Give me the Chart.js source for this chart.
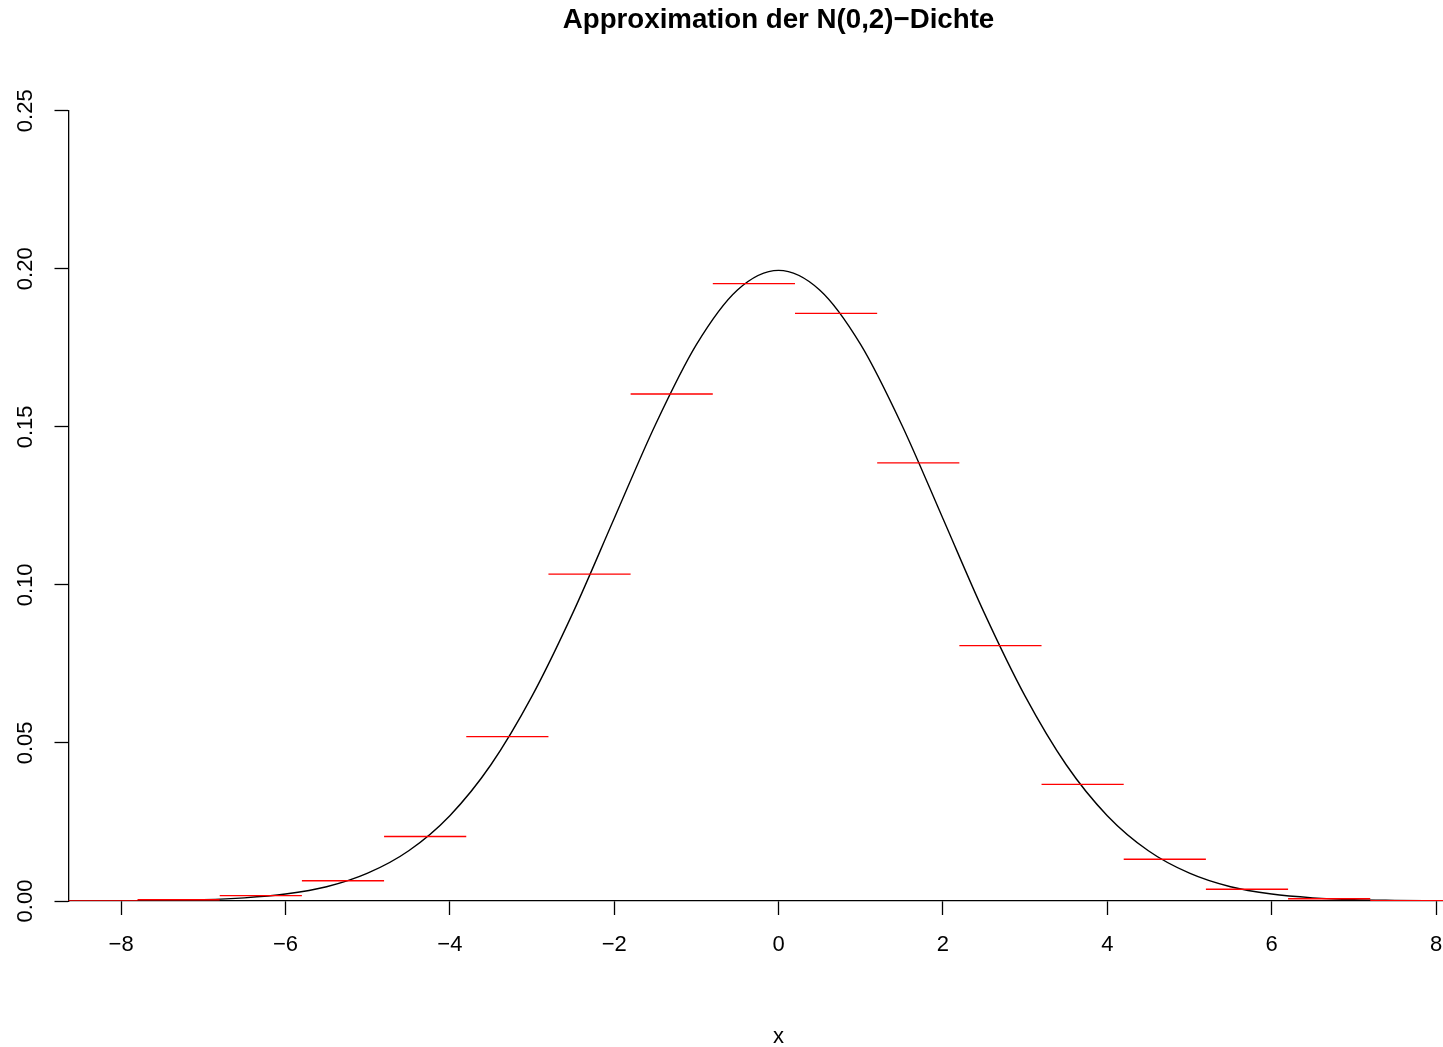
<!DOCTYPE html>
<html>
<head>
<meta charset="utf-8">
<script src="https://cdn.jsdelivr.net/npm/chart.js@4/dist/chart.umd.min.js"></script>
<style>
html,body{margin:0;padding:0;overflow:hidden;background:#fff;width:1443px;height:1047px}
canvas{display:block}
</style>
</head>
<body>
<canvas id="c" width="1557" height="1047" style="width:1557px;height:1047px"></canvas>
<script>
// ---- data ----
const chartTitle = "Approximation der N(0,2)\u2212Dichte";
const xAxisTitle = "x";

// black density curve (sampled every 0.5)
const curveX = [-8,-7.5,-7,-6.5,-6,-5.5,-5,-4.5,-4,-3.5,-3,-2.5,-2,-1.5,-1,-0.5,0,
                0.5,1,1.5,2,2.5,3,3.5,4,4.5,5,5.5,6,6.5,7,7.5,8];
const curveY = [0.0001,0.0002,0.0004,0.0010,0.0022,0.0045,0.0088,0.0159,0.0270,0.0431,0.0648,0.0913,0.1210,0.1506,0.1760,0.1933,0.1995,
                0.1933,0.1760,0.1506,0.1210,0.0913,0.0648,0.0431,0.0270,0.0159,0.0088,0.0045,0.0022,0.0010,0.0004,0.0002,0.0001];

// red horizontal segments
const segLeft  = [-8.8,-7.8,-6.8,-5.8,-4.8,-3.8,-2.8,-1.8,-0.8,0.2,1.2,2.2,3.2,4.2,5.2,6.2,7.2];
const segRight = [-7.8,-6.8,-5.8,-4.8,-3.8,-2.8,-1.8,-0.8,0.2,1.2,2.2,3.2,4.2,5.2,6.2,7.2,8.2];
const segValue = [0.0000,0.0004,0.0017,0.0064,0.0204,0.0520,0.1034,0.1604,0.1953,0.1859,0.1386,0.0808,0.0369,0.0132,0.0037,0.0007,0.0001];

// axes
const xMin = -8.64, xMax = 8.64;
const yMin = 0, yMax = 0.25;
const xTicks = [-8,-6,-4,-2,0,2,4,6,8];
const xTickLabels = ["\u22128","\u22126","\u22124","\u22122","0","2","4","6","8"];
const yTicks = [0,0.05,0.10,0.15,0.20,0.25];
const yTickLabels = ["0.00","0.05","0.10","0.15","0.20","0.25"];

// ---- build chart ----
const FONT = "'Liberation Sans', Arial, Helvetica, sans-serif";
Chart.defaults.font.family = FONT;
Chart.defaults.color = '#000';

const curvePoints = curveX.map((x, i) => ({x: x, y: curveY[i]}));
const segPoints = [];
segLeft.forEach((l, i) => {
  segPoints.push({x: l, y: segValue[i]});
  segPoints.push({x: segRight[i], y: segValue[i]});
  segPoints.push({x: segRight[i], y: null});
});

new Chart(document.getElementById('c'), {
  type: 'line',
  data: {
    datasets: [
      {
        data: segPoints,
        borderColor: '#ff0000',
        borderWidth: 1.4,
        pointRadius: 0,
        spanGaps: false,
        tension: 0,
        fill: false
      },
      {
        data: curvePoints,
        borderColor: '#000000',
        borderWidth: 1.4,
        pointRadius: 0,
        cubicInterpolationMode: 'monotone',
        fill: false
      }
    ]
  },
  options: {
    responsive: false,
    devicePixelRatio: 1,
    animation: false,
    events: [],
    layout: {padding: 0},
    plugins: {
      legend: {display: false},
      tooltip: {enabled: false},
      title: {
        display: true,
        text: chartTitle,
        color: '#000',
        font: {size: 27.7, weight: 'bold', family: FONT, lineHeight: 1.2},
        padding: {top: 4.1, bottom: 73.4}
      }
    },
    scales: {
      x: {
        type: 'linear',
        min: xMin,
        max: xMax,
        afterBuildTicks: s => { s.ticks = xTicks.map(v => ({value: v})); },
        afterFit: s => { s.height = 146; },
        grid: {display: true, drawOnChartArea: false, drawTicks: true, tickLength: 14, tickColor: '#000', tickWidth: 1.3},
        border: {display: true, color: '#000', width: 1.3},
        ticks: {autoSkip: false, minRotation: 0, maxRotation: 0, padding: 16.8, color: '#000',
                font: {size: 22}, callback: (v, i) => xTickLabels[i]},
        title: {display: true, text: xAxisTitle, color: '#000', font: {size: 22, lineHeight: 1}, padding: {top: 0, bottom: -1}}
      },
      y: {
        type: 'linear',
        min: yMin,
        max: yMax,
        afterBuildTicks: s => { s.ticks = yTicks.map(v => ({value: v})); },
        afterFit: s => { s.width = 68.5; },
        grid: {display: true, drawOnChartArea: false, drawTicks: true, tickLength: 14, tickColor: '#000', tickWidth: 1.3},
        border: {display: true, color: '#000', width: 1.3},
        ticks: {autoSkip: false, minRotation: 90, maxRotation: 90, crossAlign: 'center', padding: 7, color: '#000',
                font: {size: 22}, callback: (v, i) => yTickLabels[i]}
      },
      // empty right margin (matches the left margin so the title centres over the plot)
      yRight: {
        type: 'linear',
        position: 'right',
        display: true,
        min: yMin,
        max: yMax,
        afterFit: s => { s.width = 68.4; },
        grid: {display: false, drawTicks: false},
        border: {display: false},
        ticks: {display: false}
      }
    }
  }
});
</script>
</body>
</html>
